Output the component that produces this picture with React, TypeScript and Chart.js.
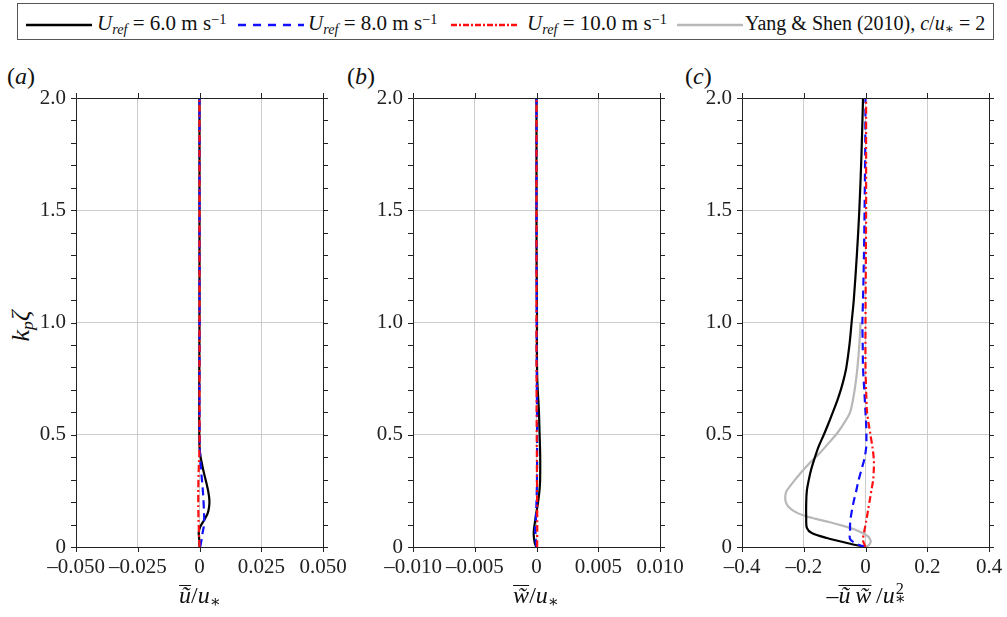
import React, { useEffect, useRef } from "react";
import { Chart, registerables } from "chart.js";

Chart.register(...registerables);

const FONT = '"Liberation Serif", "DejaVu Serif", "Times New Roman", serif';

// ---- tick values ----
const yTicks = [0, 0.5, 1.0, 1.5, 2.0];
const yMinorStep = 0.1;
const xTicksA = [-0.05, -0.025, 0, 0.025, 0.05];
const xTicksB = [-0.01, -0.005, 0, 0.005, 0.01];
const xTicksC = [-0.4, -0.2, 0, 0.2, 0.4];

// ---- panel (a): u~ / u* ----
const aZeta6 = [0, 0.02, 0.045, 0.065, 0.09, 0.12, 0.15, 0.18, 0.21, 0.25, 0.29, 0.33, 0.37, 0.41, 0.45, 0.55, 0.7, 1.0, 1.5, 2.0];
const aVal6 = [0, 0.0, -0.0002, -0.0003, 0.0003, 0.0019, 0.0033, 0.0039, 0.004, 0.0035, 0.0027, 0.0018, 0.001, 0.0003, 0.0, -0.0001, -0.0001, 0, 0, 0];
const aZeta8 = [0, 0.03, 0.06, 0.09, 0.12, 0.16, 0.21, 0.26, 0.31, 0.36, 0.4, 0.45, 0.6, 1.0, 1.5, 2.0];
const aVal8 = [0.0003, 0.0008, 0.0012, 0.0017, 0.0019, 0.0018, 0.0016, 0.0013, 0.0009, 0.0005, 0.0003, 0.0001, 0, 0, 0, 0];
const aZeta10 = [0, 0.06, 0.12, 0.18, 0.25, 0.32, 0.38, 0.45, 0.6, 1.0, 2.0];
const aVal10 = [0, -0.0002, -0.0004, -0.0005, -0.0005, -0.0004, -0.0002, 0, 0, 0, 0];

// ---- panel (b): w~ / u* ----
const bZeta6 = [0, 0.01, 0.03, 0.05, 0.07, 0.09, 0.12, 0.15, 0.19, 0.23, 0.28, 0.33, 0.4, 0.45, 0.52, 0.6, 0.68, 0.75, 0.9, 1.0, 1.1, 1.25, 1.5, 1.75, 2.0];
const bVal6 = [0, -0.0001, -0.00018, -0.00022, -0.00022, -0.00018, -0.0001, -0.00002, 0.0001, 0.0002, 0.00028, 0.0003, 0.0003, 0.00028, 0.00024, 0.0002, 0.00012, 0.00006, 0.00003, 0.00004, 0.00003, 0.00001, 0, 0, 0];
const bZeta8 = [0, 0.04, 0.08, 0.12, 0.2, 0.3, 0.5, 0.8, 1.2, 1.6, 2.0];
const bVal8 = [0, -0.00008, -0.0001, -0.00006, 0, 0.00004, 0.00005, 0.00002, 0.00001, 0, 0];
const bZeta10 = [0, 0.1, 0.2, 0.4, 0.6, 0.9, 1.3, 2.0];
const bVal10 = [0.00005, 0.00006, 0.00005, 0.00003, 0.00001, 0, 0, 0];

// ---- panel (c): -u~w~ / u*^2 ----
const cZeta6 = [0, 0.018, 0.04, 0.062, 0.085, 0.13, 0.2, 0.25, 0.29, 0.34, 0.39, 0.45, 0.5, 0.55, 0.6, 0.65, 0.7, 0.75, 0.8, 0.9, 1.0, 1.1, 1.3, 1.5, 1.75, 2.0];
const cVal6 = [0, -0.06, -0.125, -0.174, -0.19, -0.192, -0.192, -0.19, -0.185, -0.177, -0.166, -0.151, -0.135, -0.12, -0.106, -0.092, -0.08, -0.07, -0.062, -0.052, -0.045, -0.038, -0.028, -0.02, -0.013, -0.008];
const cZeta8 = [0, 0.005, 0.015, 0.036, 0.07, 0.1, 0.13, 0.17, 0.21, 0.25, 0.3, 0.35, 0.39, 0.44, 0.48, 0.55, 0.6, 0.7, 0.8, 0.9, 1.0, 1.1, 1.3, 1.5, 1.75, 2.0];
const cVal8 = [0, -0.012, -0.03, -0.05, -0.05, -0.05, -0.048, -0.043, -0.037, -0.03, -0.022, -0.012, -0.004, 0.002, 0.003, 0.002, 0, -0.004, -0.008, -0.009, -0.01, -0.008, -0.005, -0.003, -0.001, 0];
const cZeta10 = [0, 0.03, 0.07, 0.12, 0.17, 0.21, 0.26, 0.3, 0.35, 0.39, 0.44, 0.5, 0.55, 0.6, 0.7, 0.8, 1.0, 1.25, 1.5, 1.75, 2.0];
const cVal10 = [0, -0.008, -0.004, 0.003, 0.009, 0.014, 0.02, 0.025, 0.027, 0.027, 0.023, 0.016, 0.01, 0.005, 0.002, 0, 0, 0.001, 0.002, 0.002, 0.002];
const cZetaYS = [0, 0.01, 0.025, 0.045, 0.062, 0.078, 0.095, 0.11, 0.125, 0.14, 0.16, 0.18, 0.2, 0.22, 0.245, 0.27, 0.3, 0.33, 0.375, 0.42, 0.465, 0.51, 0.555, 0.6, 0.66, 0.73, 0.8, 0.9, 1.0];
const cValYS = [0.002, 0.012, 0.017, 0.01, -0.01, -0.035, -0.075, -0.115, -0.16, -0.2, -0.232, -0.25, -0.258, -0.26, -0.257, -0.245, -0.228, -0.21, -0.18, -0.147, -0.118, -0.09, -0.068, -0.05, -0.04, -0.032, -0.026, -0.02, -0.016];

const pts = (z: number[], v: number[]) => z.map((zz, i) => ({ x: v[i], y: zz }));

const BLACK = "#000000";
const BLUE = "#1010ff";
const RED = "#ff1010";
const GRAY = "#b8b8b8";

function series(z: number[], v: number[], kind: string) {
  const base: any = {
    data: pts(z, v),
    showLine: true,
    pointRadius: 0,
    borderWidth: 2.2,
    tension: 0.3,
    fill: false,
  };
  if (kind === "k") { base.borderColor = BLACK; }
  if (kind === "b") { base.borderColor = BLUE; base.borderDash = [8, 5]; }
  if (kind === "r") { base.borderColor = RED; base.borderDash = [7, 3, 2, 3]; }
  if (kind === "g") { base.borderColor = GRAY; }
  return base;
}

const framePlugin = {
  id: "frame",
  afterDraw(chart: any) {
    const { ctx, chartArea } = chart;
    const { left, right, top, bottom } = chartArea;
    const xs = chart.scales.x;
    const ys = chart.scales.y;
    const tl = 5;
    ctx.save();
    ctx.strokeStyle = "#222";
    ctx.lineWidth = 1;
    ctx.beginPath();
    ctx.rect(Math.round(left) + 0.5, Math.round(top) + 0.5, Math.round(right - left), Math.round(bottom - top));
    ctx.stroke();
    ctx.beginPath();
    const xt: number[] = chart.options.xTickVals;
    xt.forEach((v: number) => {
      const px = Math.round(xs.getPixelForValue(v)) + 0.5;
      ctx.moveTo(px, bottom);
      ctx.lineTo(px, bottom + tl);
      ctx.moveTo(px, top);
      ctx.lineTo(px, top - tl);
    });
    for (let i = 0; i <= 20; i++) {
      const v = i * yMinorStep;
      const py = Math.round(ys.getPixelForValue(v)) + 0.5;
      ctx.moveTo(left, py);
      ctx.lineTo(left - tl, py);
      ctx.moveTo(right, py);
      ctx.lineTo(right + tl, py);
    }
    ctx.stroke();
    ctx.restore();
  },
};

const fmtX = (dec: number) => (v: number) => {
  if (Math.abs(v) < 1e-12) return "0";
  return (v < 0 ? "\u2013" : "") + Math.abs(v).toFixed(dec);
};
const fmtY = (v: number) => (Math.abs(v) < 1e-12 ? "0" : v.toFixed(1));

function makeConfig(xTicks: number[], dec: number, datasets: any[]): any {
  const tickFont = { family: FONT, size: 21 };
  return {
    type: "scatter",
    data: { datasets },
    options: {
      animation: false,
      responsive: false,
      maintainAspectRatio: false,
      devicePixelRatio: 1,
      xTickVals: xTicks,
      layout: { autoPadding: false, padding: { left: 0, top: 10, right: 40, bottom: 0 } },
      plugins: { legend: { display: false }, tooltip: { enabled: false } },
      scales: {
        x: {
          type: "linear",
          min: xTicks[0],
          max: xTicks[xTicks.length - 1],
          afterBuildTicks: (s: any) => { s.ticks = xTicks.map((v) => ({ value: v })); },
          ticks: { callback: fmtX(dec), font: tickFont, color: "#222", padding: 8, maxRotation: 0, autoSkip: false },
          grid: { color: "#cccccc", lineWidth: 1, drawTicks: false },
          border: { display: false },
          afterFit: (s: any) => { s.height = 38; s.paddingLeft = 0; s.paddingRight = 0; },
        },
        y: {
          type: "linear",
          min: 0,
          max: 2,
          afterBuildTicks: (s: any) => { s.ticks = yTicks.map((v) => ({ value: v })); },
          ticks: { callback: fmtY, font: tickFont, color: "#222", padding: 10, autoSkip: false },
          grid: { color: "#cccccc", lineWidth: 1, drawTicks: false },
          border: { display: false },
          afterFit: (s: any) => { s.width = 76; s.paddingTop = 0; s.paddingBottom = 0; },
        },
      },
    },
    plugins: [framePlugin],
  };
}

const CW = 76 + 247 + 40;
const CH = 10 + 449 + 38;

function Panel({ left, config }: { left: number; config: () => any }) {
  const ref = useRef<HTMLCanvasElement | null>(null);
  useEffect(() => {
    if (!ref.current) return;
    const ch = new Chart(ref.current, config());
    return () => ch.destroy();
  }, []);
  return (
    <canvas
      ref={ref}
      width={CW}
      height={CH}
      style={{ position: "absolute", left, top: 88, width: CW, height: CH }}
    />
  );
}

const sub: React.CSSProperties = { fontSize: "0.68em", verticalAlign: "-0.25em", lineHeight: 0 };
const sup: React.CSSProperties = { fontSize: "0.68em", verticalAlign: "0.45em", lineHeight: 0 };
const ov: React.CSSProperties = { display: "inline-block", borderTop: "1px solid #111", lineHeight: "18px", fontStyle: "italic" };

function LegendLine({ left, kind }: { left: number; kind: string }) {
  const w = 66;
  let stroke = BLACK;
  let dash: string | undefined;
  if (kind === "b") { stroke = BLUE; dash = "8 7"; }
  if (kind === "r") { stroke = RED; dash = "6 2 2 2"; }
  if (kind === "g") { stroke = GRAY; }
  return (
    <svg style={{ position: "absolute", left, top: 17 }} width={w} height={16}>
      <line x1={0} y1={8} x2={w} y2={8} stroke={stroke} strokeWidth={2.5} strokeDasharray={dash} />
    </svg>
  );
}

function LegendText({ left, size, children }: { left: number; size?: number; children: React.ReactNode }) {
  return (
    <div style={{ position: "absolute", left, top: 13, fontSize: size || 21, lineHeight: "21px", whiteSpace: "nowrap", color: "#111" }}>
      {children}
    </div>
  );
}

const Uref = (
  <>
    <i>U</i>
    <i style={sub}>ref</i>
  </>
);

export default function App() {
  const cfgA = () =>
    makeConfig(xTicksA, 3, [
      series(aZeta10, aVal10, "r"),
      series(aZeta8, aVal8, "b"),
      series(aZeta6, aVal6, "k"),
    ]);
  const cfgB = () =>
    makeConfig(xTicksB, 3, [
      series(bZeta10, bVal10, "r"),
      series(bZeta8, bVal8, "b"),
      series(bZeta6, bVal6, "k"),
    ]);
  const cfgC = () =>
    makeConfig(xTicksC, 1, [
      series(cZeta10, cVal10, "r"),
      series(cZeta8, cVal8, "b"),
      series(cZeta6, cVal6, "k"),
      series(cZetaYS, cValYS, "g"),
    ]);

  const panelLabel = (x: number, letter: string) => (
    <div style={{ position: "absolute", left: x, top: 64, fontSize: 24, lineHeight: "24px", color: "#111" }}>
      (<i>{letter}</i>)
    </div>
  );
  const xTitle = (cx: number, content: React.ReactNode) => (
    <div
      style={{
        position: "absolute",
        left: cx,
        top: 583,
        transform: "translateX(-50%)",
        fontSize: 24,
        lineHeight: "24px",
        whiteSpace: "nowrap",
        color: "#111",
      }}
    >
      {content}
    </div>
  );

  return (
    <div
      style={{
        position: "absolute",
        left: 0,
        top: 0,
        width: 1007,
        height: 617,
        background: "#fff",
        fontFamily: FONT,
        overflow: "hidden",
      }}
    >
      {/* legend */}
      <div
        style={{
          position: "absolute",
          left: 17,
          top: 3,
          width: 975,
          height: 35,
          border: "1px solid #555",
        }}
      />
      <LegendLine left={26} kind="k" />
      <LegendText left={97}>
        {Uref} = 6.0 m s<span style={sup}>{"\u22121"}</span>
      </LegendText>
      <LegendLine left={238} kind="b" />
      <LegendText left={308}>
        {Uref} = 8.0 m s<span style={sup}>{"\u22121"}</span>
      </LegendText>
      <LegendLine left={451} kind="r" />
      <LegendText left={527}>
        {Uref} = 10.0 m s<span style={sup}>{"\u22121"}</span>
      </LegendText>
      <LegendLine left={677} kind="g" />
      <LegendText left={745} size={20}>
        Yang &amp; Shen (2010), <i>c</i>/<i>u</i>
        <span style={sub}>{"\u2217"}</span> = 2
      </LegendText>

      {panelLabel(7, "a")}
      {panelLabel(347, "b")}
      {panelLabel(685, "c")}

      {/* y title */}
      <div
        style={{
          position: "absolute",
          left: 21,
          top: 326,
          transform: "translate(-50%, -50%) rotate(-90deg)",
          fontSize: 26,
          lineHeight: "26px",
          whiteSpace: "nowrap",
          color: "#111",
        }}
      >
        <i>k</i>
        <i style={sub}>p</i>
        <i>{"\u03B6"}</i>
      </div>

      <Panel left={0} config={cfgA} />
      <Panel left={337} config={cfgB} />
      <Panel left={666} config={cfgC} />

      {xTitle(
        200,
        <>
          <span style={ov}>{"\u0169"}</span>/<i>u</i>
          <span style={sub}>{"\u2217"}</span>
        </>
      )}
      {xTitle(
        536,
        <>
          <span style={ov}>{"w\u0303"}</span>/<i>u</i>
          <span style={sub}>{"\u2217"}</span>
        </>
      )}
      {xTitle(
        866,
        <>
          {"\u2013"}
          <span style={ov}>{"\u0169\u2009w\u0303"}</span>
          {"\u2009"}/<i>u</i>
          <span style={{ display: "inline-block", position: "relative", width: "0.45em" }}>
            <span style={{ position: "absolute", left: 1, top: "-0.1em", fontSize: "0.68em", lineHeight: 1 }}>2</span>
            <span style={{ position: "absolute", left: 0, top: "0.48em", fontSize: "0.68em", lineHeight: 1 }}>{"\u2217"}</span>
            {"\u00A0"}
          </span>
        </>
      )}
    </div>
  );
}
